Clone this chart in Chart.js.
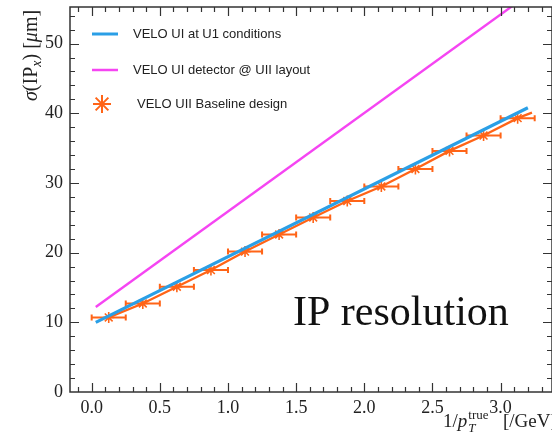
<!DOCTYPE html>
<html>
<head>
<meta charset="utf-8">
<script src="https://cdn.jsdelivr.net/npm/chart.js@4"></script>
<style>
  html, body { margin: 0; padding: 0; background: #fff; }
  canvas { display: block; }
</style>
</head>
<body>
<canvas id="ipChart" width="552" height="441"></canvas>
<script>
// 1/pT bins [1/GeV], baseline design points
const binCenters = [0.125, 0.375, 0.625, 0.875, 1.125, 1.375, 1.625, 1.875, 2.125, 2.375, 2.625, 2.875, 3.125];
const binHalfWidth = 0.125;
const baselineY = [10.7, 12.7, 15.1, 17.5, 20.15, 22.6, 25.05, 27.4, 29.5, 32.0, 34.6, 36.8, 39.3];

// line through the baseline points
const baselineLineX = [0.125, 0.375, 0.625, 0.875, 1.125, 1.375, 1.625, 1.875, 2.125, 2.375, 2.625, 2.875, 3.125, 3.23];
const baselineLineY = [10.7, 12.7, 15.1, 17.5, 20.15, 22.6, 25.05, 27.4, 29.5, 32.0, 34.6, 36.8, 39.3, 40.1];

// VELO UI at U1 conditions
const u1X = [0.03, 3.2];
const u1Y = [10.0, 40.8];

// VELO UI detector @ UII layout
const uiiX = [0.03, 3.2];
const uiiY = [12.2, 57.0];

const xTickValues = [0, 0.5, 1.0, 1.5, 2.0, 2.5, 3.0];
const yTickValues = [0, 10, 20, 30, 40, 50];

const legendLabels = ['VELO UI at U1 conditions', 'VELO UI detector @ UII layout', 'VELO UII Baseline design'];

const BLUE = '#2a9fe6';
const PINK = '#f545f2';
const ORANGE = '#ff6417';
const INK = '#222';
const SERIF = '"Liberation Serif", "Times New Roman", serif';

const toPoints = (xs, ys) => xs.map((x, i) => ({ x: x, y: ys[i] }));

// horizontal error bars (bin widths) under the markers
const errorBars = {
  id: 'errorBars',
  beforeDatasetDraw(chart, args) {
    if (args.index !== 1) return;
    const { ctx, scales: { x, y } } = chart;
    ctx.save();
    ctx.strokeStyle = ORANGE;
    ctx.lineWidth = 2;
    ctx.beginPath();
    binCenters.forEach((c, i) => {
      const py = y.getPixelForValue(baselineY[i]);
      const x0 = x.getPixelForValue(c - binHalfWidth);
      const x1 = x.getPixelForValue(c + binHalfWidth);
      ctx.moveTo(x0, py); ctx.lineTo(x1, py);
      ctx.moveTo(x0, py - 3); ctx.lineTo(x0, py + 3);
      ctx.moveTo(x1, py - 3); ctx.lineTo(x1, py + 3);
    });
    ctx.stroke();
    ctx.restore();
  }
};

// frame with inward ticks, legend, titles
const decorations = {
  id: 'decorations',
  afterDraw(chart) {
    const { ctx, chartArea: a, scales: { x, y } } = chart;
    ctx.save();

    ctx.strokeStyle = '#333';
    ctx.lineWidth = 1.5;
    ctx.strokeRect(a.left, a.top, a.right - a.left, a.bottom - a.top);

    ctx.lineWidth = 1.2;
    ctx.beginPath();
    for (let i = -1; i <= 33; i++) {
      const px = Math.round(x.getPixelForValue(i / 10)) + 0.5;
      const len = i % 5 === 0 ? 9 : 5;
      ctx.moveTo(px, a.bottom); ctx.lineTo(px, a.bottom - len);
      ctx.moveTo(px, a.top); ctx.lineTo(px, a.top + len);
    }
    for (let v = 2; v <= 54; v += 2) {
      const py = Math.round(y.getPixelForValue(v)) + 0.5;
      const len = v % 10 === 0 ? 9 : 5;
      ctx.moveTo(a.left, py); ctx.lineTo(a.left + len, py);
      ctx.moveTo(a.right, py); ctx.lineTo(a.right - len, py);
    }
    ctx.stroke();

    // legend
    ctx.font = '13px "Liberation Sans", Arial, sans-serif';
    ctx.fillStyle = INK;
    ctx.textBaseline = 'middle';
    ctx.lineWidth = 3;
    ctx.strokeStyle = BLUE;
    ctx.beginPath(); ctx.moveTo(92, 34); ctx.lineTo(118, 34); ctx.stroke();
    ctx.fillText(legendLabels[0], 133, 34);
    ctx.lineWidth = 2.5;
    ctx.strokeStyle = PINK;
    ctx.beginPath(); ctx.moveTo(92, 70); ctx.lineTo(118, 70); ctx.stroke();
    ctx.fillText(legendLabels[1], 133, 70);
    ctx.strokeStyle = ORANGE;
    ctx.lineWidth = 2;
    ctx.beginPath();
    for (let k = 0; k < 4; k++) {
      const ang = k * Math.PI / 4;
      const dx = Math.cos(ang) * 9, dy = Math.sin(ang) * 9;
      ctx.moveTo(102 - dx, 104 - dy); ctx.lineTo(102 + dx, 104 + dy);
    }
    ctx.stroke();
    ctx.fillText(legendLabels[2], 137, 104);

    // big label
    ctx.textBaseline = 'alphabetic';
    ctx.font = '42px ' + SERIF;
    ctx.fillStyle = '#111';
    ctx.fillText('IP resolution', 293, 325);

    // y title: sigma(IP_x) [mu m]
    ctx.fillStyle = INK;
    ctx.save();
    ctx.translate(37, 101);
    ctx.rotate(-Math.PI / 2);
    let u = 0;
    const put = (txt, font, dy) => {
      ctx.font = font;
      ctx.fillText(txt, u, dy || 0);
      u += ctx.measureText(txt).width;
    };
    put('\u03c3', 'italic 20px ' + SERIF);
    put('(IP', '20px ' + SERIF);
    put('x', 'italic 14px ' + SERIF, 4);
    put(') [', '20px ' + SERIF);
    put('\u03bc', 'italic 20px ' + SERIF);
    put('m]', '20px ' + SERIF);
    ctx.restore();

    // x title: 1/pT^true [/GeV]
    let cx = 443;
    const base = 427;
    ctx.font = '19px ' + SERIF;
    ctx.fillText('1/', cx, base);
    cx += ctx.measureText('1/').width;
    ctx.font = 'italic 19px ' + SERIF;
    ctx.fillText('p', cx, base);
    cx += ctx.measureText('p').width + 1;
    ctx.font = 'italic 13px ' + SERIF;
    ctx.fillText('T', cx, base + 5);
    ctx.font = '13px ' + SERIF;
    ctx.fillText('true', cx, base - 8);
    ctx.font = '19px ' + SERIF;
    ctx.fillText('[/GeV]', 503, base);

    ctx.restore();
  }
};

new Chart(document.getElementById('ipChart'), {
  type: 'scatter',
  data: {
    datasets: [
      {
        label: legendLabels[2] + ' line',
        data: toPoints(baselineLineX, baselineLineY),
        showLine: true,
        borderColor: ORANGE,
        borderWidth: 2.3,
        pointRadius: 0,
        order: 5,
      },
      {
        label: legendLabels[2],
        data: toPoints(binCenters, baselineY),
        showLine: false,
        pointStyle: 'star',
        pointRadius: 5.5,
        borderColor: ORANGE,
        backgroundColor: ORANGE,
        pointBorderWidth: 1.6,
        order: 4,
      },
      {
        label: legendLabels[0],
        data: toPoints(u1X, u1Y),
        showLine: true,
        borderColor: BLUE,
        borderWidth: 3.2,
        pointRadius: 0,
        order: 2,
      },
      {
        label: legendLabels[1],
        data: toPoints(uiiX, uiiY),
        showLine: true,
        borderColor: PINK,
        borderWidth: 2.4,
        pointRadius: 0,
        order: 1,
      },
    ],
  },
  options: {
    responsive: false,
    animation: false,
    devicePixelRatio: 1,
    layout: { autoPadding: false, padding: { top: 7, right: 0, left: 0, bottom: 0 } },
    plugins: {
      legend: { display: false },
      tooltip: { enabled: false },
    },
    scales: {
      x: {
        type: 'linear',
        min: -0.159,
        max: 3.377,
        grid: { display: false, drawTicks: false, tickLength: 0 },
        border: { display: false },
        afterBuildTicks: (s) => { s.ticks = xTickValues.map((v) => ({ value: v })); },
        afterFit: (s) => { s.height = 49; s.paddingLeft = 0; s.paddingRight = 0; },
        ticks: {
          font: { family: SERIF, size: 18 },
          color: INK,
          padding: 5,
          maxRotation: 0,
          autoSkip: false,
          callback: (v) => Number(v).toFixed(1),
        },
      },
      y: {
        type: 'linear',
        min: 0,
        max: 55.25,
        grid: { display: false, drawTicks: false, tickLength: 0 },
        border: { display: false },
        afterBuildTicks: (s) => { s.ticks = yTickValues.map((v) => ({ value: v })); },
        afterFit: (s) => { s.width = 70; s.paddingTop = 0; s.paddingBottom = 0; },
        ticks: {
          font: { family: SERIF, size: 18 },
          color: INK,
          padding: 7,
          autoSkip: false,
          callback: (v) => String(v),
        },
      },
    },
  },
  plugins: [errorBars, decorations],
});
</script>
</body>
</html>
